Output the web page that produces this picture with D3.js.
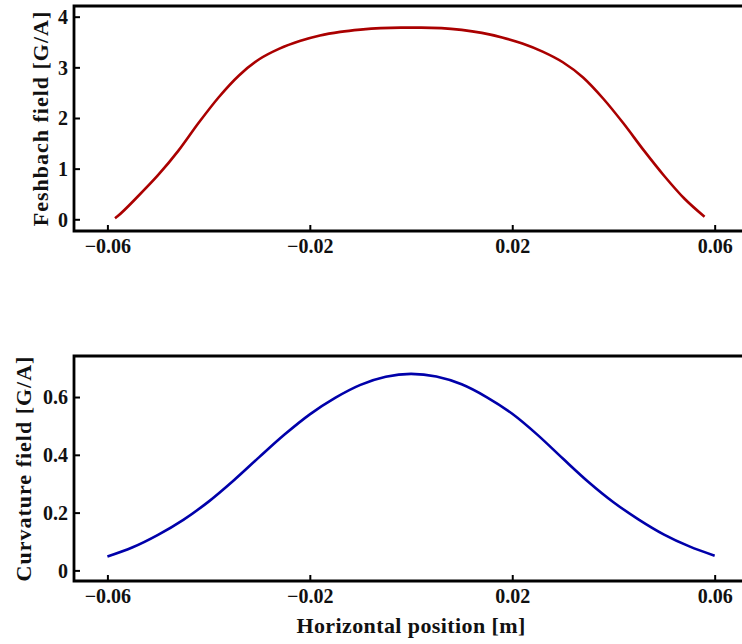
<!DOCTYPE html>
<html>
<head>
<meta charset="utf-8">
<script src="https://cdn.jsdelivr.net/npm/d3@7/dist/d3.min.js"></script>
<style>
  html, body { margin: 0; padding: 0; background: #fff; }
  svg { display: block; }
  text { font-family: "Liberation Serif", "Times New Roman", serif; font-weight: bold; fill: #111; }
</style>
</head>
<body>
<svg id="chart" width="742" height="644"></svg>
<script>
// ---- data ----
const feshX = [-0.0585, -0.058, -0.054, -0.050, -0.046, -0.042, -0.038, -0.034, -0.030, -0.026, -0.022, -0.018, -0.014, -0.010, -0.006, -0.002,
               0.002, 0.006, 0.010, 0.014, 0.018, 0.022, 0.026, 0.030, 0.034, 0.038, 0.042, 0.046, 0.050, 0.054, 0.058];
const feshY = [0.02, 0.06, 0.45, 0.87, 1.35, 1.90, 2.41, 2.84, 3.16, 3.37, 3.52, 3.63, 3.70, 3.745, 3.775, 3.785,
               3.785, 3.775, 3.74, 3.68, 3.59, 3.47, 3.31, 3.10, 2.80, 2.38, 1.89, 1.36, 0.86, 0.41, 0.05];

const curvX = [-0.060, -0.055, -0.050, -0.045, -0.040, -0.035, -0.030, -0.025, -0.020, -0.015, -0.010, -0.005, 0.000,
               0.005, 0.010, 0.015, 0.020, 0.025, 0.030, 0.035, 0.040, 0.045, 0.050, 0.055, 0.060];
const curvY = [0.048, 0.080, 0.123, 0.175, 0.238, 0.312, 0.392, 0.470, 0.540, 0.597, 0.642, 0.670, 0.680,
               0.671, 0.644, 0.599, 0.542, 0.469, 0.387, 0.307, 0.236, 0.176, 0.124, 0.083, 0.051];

const xTicks = [-0.06, -0.02, 0.02, 0.06];
const xTickLabels = ["\u22120.06", "\u22120.02", "0.02", "0.06"];
const feshTicks = [0, 1, 2, 3, 4];
const feshTickLabels = ["0", "1", "2", "3", "4"];
const curvTicks = [0, 0.2, 0.4, 0.6];
const curvTickLabels = ["0", "0.2", "0.4", "0.6"];

const feshTitle = "Feshbach field [G/A]";
const curvTitle = "Curvature field [G/A]";
const xTitle = "Horizontal position [m]";

// ---- layout ----
const svg = d3.select("#chart");
const left = 74, right = 742;
const tickFont = 20;
const titleFont = 22;

const x = d3.scaleLinear().domain([-0.0666, 0.0654]).range([left, right]);

const panels = [
  { top: 6, bottom: 231, domain: [-0.231, 4.211], xs: feshX, ys: feshY, color: "#aa0000",
    ticks: feshTicks, labels: feshTickLabels, title: feshTitle, titleX: 48, showXTitle: false },
  { top: 356, bottom: 581, domain: [-0.0367, 0.742], xs: curvX, ys: curvY, color: "#0000aa",
    ticks: curvTicks, labels: curvTickLabels, title: curvTitle, titleX: 31, showXTitle: true }
];

panels.forEach(p => {
  const y = d3.scaleLinear().domain(p.domain).range([p.bottom, p.top]);
  const g = svg.append("g");

  // curve
  const pts = p.xs.map((v, i) => [v, p.ys[i]]);
  g.append("path")
    .datum(pts)
    .attr("fill", "none")
    .attr("stroke", p.color)
    .attr("stroke-width", 2.6)
    .attr("d", d3.line().x(d => x(d[0])).y(d => y(d[1])).curve(d3.curveMonotoneX));

  // bottom axis (ticks inward)
  const xAxis = d3.axisBottom(x).tickValues(xTicks).tickSizeInner(-6).tickSizeOuter(0)
    .tickFormat((d, i) => xTickLabels[i]);
  const gx = g.append("g").attr("transform", `translate(0,${p.bottom})`).call(xAxis);
  gx.select(".domain").remove();
  gx.selectAll(".tick line").attr("stroke", "#000").attr("stroke-width", 2);
  gx.selectAll(".tick text").attr("y", 8).attr("dy", "0.71em")
    .style("font-size", tickFont + "px").style("font-family", "Liberation Serif, serif")
    .style("font-weight", "bold").attr("fill", "#111");

  // left axis (ticks inward)
  const yAxis = d3.axisLeft(y).tickValues(p.ticks).tickSizeInner(-6).tickSizeOuter(0)
    .tickFormat((d, i) => p.labels[i]);
  const gy = g.append("g").attr("transform", `translate(${left},0)`).call(yAxis);
  gy.select(".domain").remove();
  gy.selectAll(".tick line").attr("stroke", "#000").attr("stroke-width", 2);
  gy.selectAll(".tick text").attr("x", -6).attr("dy", "0.34em")
    .style("font-size", tickFont + "px").style("font-family", "Liberation Serif, serif")
    .style("font-weight", "bold").attr("fill", "#111");

  // frame: top, left, bottom
  g.append("path")
    .attr("fill", "none").attr("stroke", "#000").attr("stroke-width", 2.8)
    .attr("d", `M${right},${p.top}H${left}V${p.bottom}H${right}`);

  // y title
  g.append("text")
    .attr("transform", `translate(${p.titleX},${(p.top + p.bottom) / 2}) rotate(-90)`)
    .attr("text-anchor", "middle")
    .style("font-size", titleFont + "px")
    .style("letter-spacing", "1px")
    .text(p.title);

  if (p.showXTitle) {
    g.append("text")
      .attr("x", x(0)).attr("y", 633)
      .attr("text-anchor", "middle")
      .style("font-size", titleFont + "px")
      .style("letter-spacing", "0.4px")
      .text(xTitle);
  }
});
</script>
</body>
</html>
